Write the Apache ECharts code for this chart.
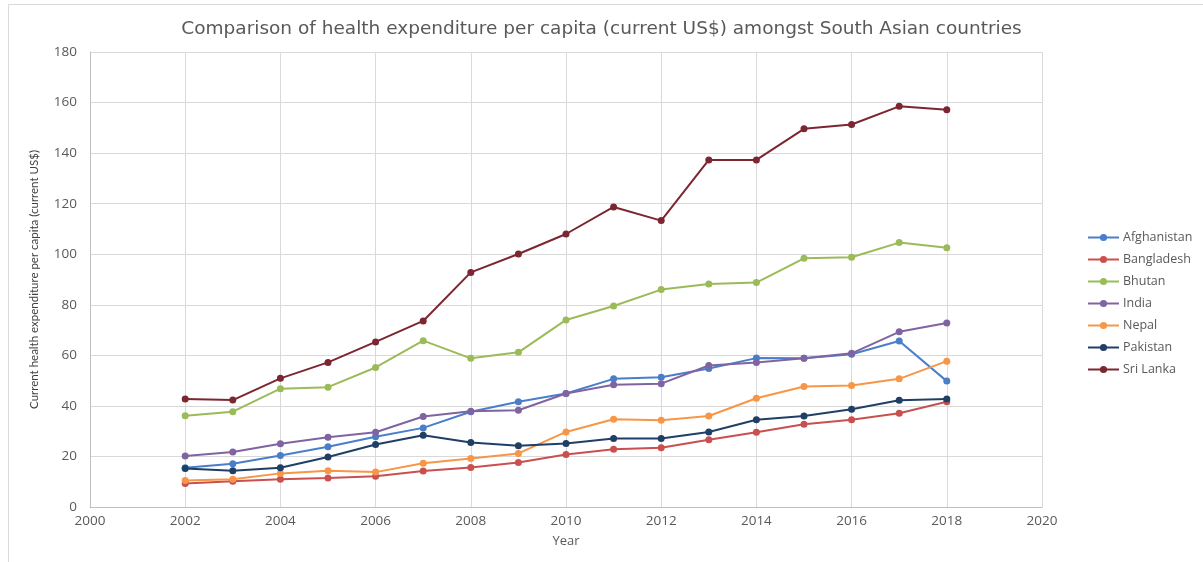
<!DOCTYPE html>
<html>
<head>
<meta charset="utf-8">
<script src="https://cdn.jsdelivr.net/npm/echarts@6/dist/echarts.min.js"></script>
<style>
  html, body { margin: 0; padding: 0; background: #fff; }
  #main { width: 1203px; height: 562px; }
</style>
</head>
<body>
<div id="main"></div>
<script>
// years on the x axis
var years = [2002, 2003, 2004, 2005, 2006, 2007, 2008, 2009, 2010, 2011, 2012, 2013, 2014, 2015, 2016, 2017, 2018]

// health expenditure per capita, current US$
var afghanistan = [15.5, 17.1, 20.4, 23.8, 27.8, 31.3, 37.7, 41.6, 44.9, 50.7, 51.3, 54.8, 58.9, 58.8, 60.4, 65.7, 49.8]
var bangladesh = [9.3, 10.2, 11.0, 11.5, 12.2, 14.2, 15.6, 17.6, 20.8, 22.8, 23.4, 26.6, 29.6, 32.7, 34.5, 37.1, 41.6]
var bhutan = [36.1, 37.7, 46.8, 47.4, 55.2, 65.8, 58.8, 61.2, 74.0, 79.5, 86.0, 88.2, 88.8, 98.4, 98.8, 104.6, 102.6]
var india = [20.2, 21.8, 25.0, 27.6, 29.6, 35.8, 37.9, 38.3, 44.9, 48.4, 48.8, 56.0, 57.2, 58.8, 60.8, 69.3, 72.8]
var nepal = [10.5, 11.0, 13.3, 14.3, 13.8, 17.3, 19.2, 21.2, 29.7, 34.7, 34.3, 36.0, 43.0, 47.7, 48.1, 50.7, 57.7]
var pakistan = [15.2, 14.3, 15.5, 19.8, 24.7, 28.4, 25.5, 24.2, 25.1, 27.1, 27.1, 29.7, 34.5, 36.0, 38.7, 42.2, 42.7]
var sriLanka = [42.7, 42.3, 50.9, 57.2, 65.3, 73.6, 92.8, 100.1, 108.0, 118.7, 113.3, 137.3, 137.3, 149.6, 151.3, 158.5, 157.2]

var countries = ['Afghanistan', 'Bangladesh', 'Bhutan', 'India', 'Nepal', 'Pakistan', 'Sri Lanka']
var values = [afghanistan, bangladesh, bhutan, india, nepal, pakistan, sriLanka]
var colors = ['#4a7ec8', '#c9504f', '#9bbb59', '#8064a2', '#f79646', '#1f3f66', '#7b2630']

var chart = echarts.init(document.getElementById('main'))

function pairs(arr) {
  return years.map(function (y, i) { return [y, arr[i]] })
}

var series = countries.map(function (name, i) {
  return {
    name: name,
    type: 'line',
    data: pairs(values[i]),
    symbol: 'circle',
    symbolSize: 7,
    lineStyle: { width: 2, color: colors[i] },
    itemStyle: { color: colors[i] },
    emphasis: { disabled: true },
  }
})

var option = {
  animation: false,
  color: colors,
  textStyle: { fontFamily: 'Open Sans' },
  title: {
    text: 'Comparison of health expenditure per capita (current US$) amongst South Asian countries',
    left: 'center',
    top: 15,
    textStyle: { fontFamily: 'DejaVu Sans', fontSize: 18.5, fontWeight: 'normal', color: '#595959' },
  },
  legend: {
    orient: 'vertical',
    left: 1082,
    top: 226,
    itemWidth: 31,
    itemHeight: 9,
    itemGap: 9,
    data: countries,
    textStyle: { fontFamily: 'Open Sans', fontSize: 12.5, color: '#595959', padding: [0, 0, 0, -1] },
  },
  grid: {
    left: 90,
    right: 161,
    top: 52,
    bottom: 55,
  },
  xAxis: {
    type: 'value',
    min: 2000,
    max: 2020,
    interval: 2,
    name: 'Year',
    nameLocation: 'middle',
    nameGap: 28,
    nameTextStyle: { fontFamily: 'Open Sans', fontSize: 13, color: '#595959' },
    axisLine: { show: true, lineStyle: { color: '#bfbfbf' } },
    axisTick: { show: false },
    axisLabel: { fontSize: 13.5, color: '#595959', margin: 7, formatter: function (v) { return String(v) } },
    splitLine: { show: true, lineStyle: { color: '#d9d9d9' } },
  },
  yAxis: {
    type: 'value',
    min: 0,
    max: 180,
    interval: 20,
    name: 'Current health expenditure per capita (current US$)',
    nameLocation: 'middle',
    nameGap: 50,
    nameTextStyle: { fontFamily: 'Lato', fontSize: 11.5, color: '#404040' },
    axisLine: { show: true, lineStyle: { color: '#bfbfbf' } },
    axisTick: { show: false },
    axisLabel: { fontSize: 13.5, color: '#595959', margin: 13 },
    splitLine: { show: true, lineStyle: { color: '#d9d9d9' } },
  },
  graphic: [
    {
      type: 'rect',
      shape: { x: 8.5, y: 4.5, width: 1200, height: 560 },
      style: { fill: 'none', stroke: '#d9d9d9', lineWidth: 1 },
      silent: true,
    },
    {
      type: 'rect',
      shape: { x: 1042.5, y: 52.5, width: 0, height: 454 },
      style: { fill: 'none', stroke: '#d9d9d9', lineWidth: 1 },
      silent: true,
    },
    {
      type: 'rect',
      shape: { x: 90, y: 52.5, width: 952, height: 0 },
      style: { fill: 'none', stroke: '#d9d9d9', lineWidth: 1 },
      silent: true,
    },
  ],
  series: series,
}

chart.setOption(option)

window.addEventListener('resize', function () {
  chart.resize()
})
</script>
</body>
</html>
